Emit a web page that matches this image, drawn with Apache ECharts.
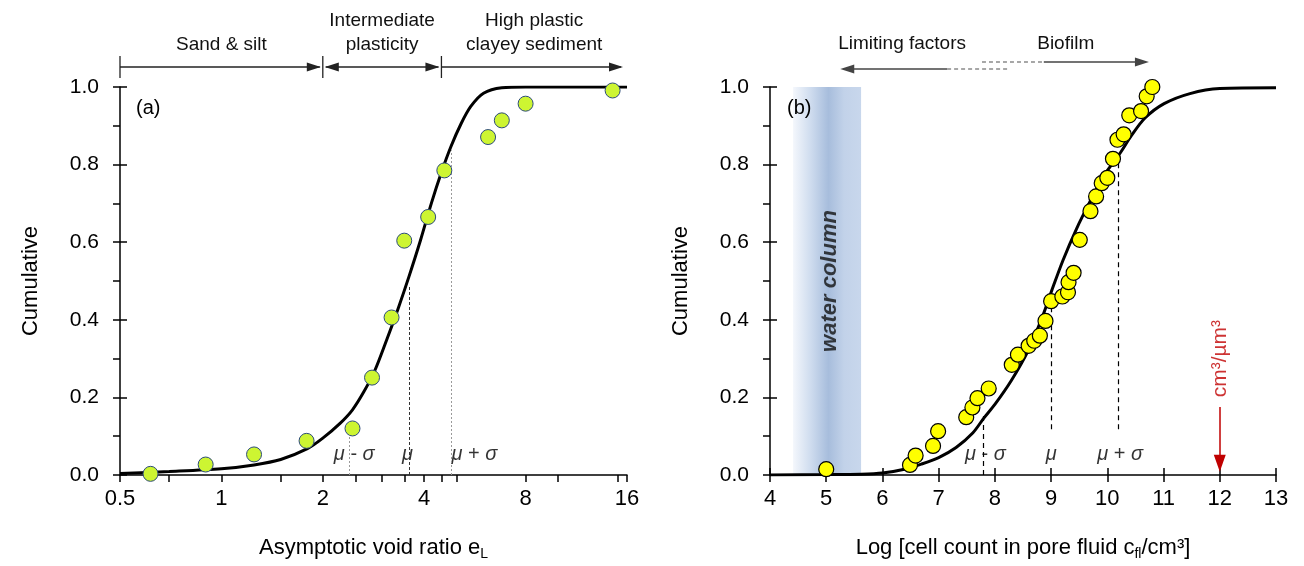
<!DOCTYPE html>
<html>
<head>
<meta charset="utf-8">
<title>Cumulative distributions</title>
<script src="https://cdn.jsdelivr.net/npm/echarts@6/dist/echarts.min.js"></script>
<style>html,body{margin:0;padding:0;background:#fff}</style>
</head>
<body>
<div id="main" style="width:1304px;height:566px"></div>
<script type="text/javascript">
// ---- panel (a): asymptotic void ratio ----
var voidRatio = [0.616, 0.898, 1.25, 1.79, 2.45, 2.80, 3.20, 3.49, 4.11, 4.59, 6.19, 6.80, 8.0, 14.5];
var cumA      = [0.003, 0.027, 0.053, 0.088, 0.120, 0.251, 0.406, 0.604, 0.665, 0.785, 0.871, 0.914, 0.957, 0.991];
var fitAx = [0.5, 0.7, 1.0, 1.25, 1.5, 1.8, 2.0, 2.25, 2.45, 2.65, 2.85, 3.1, 3.35, 3.6, 3.9, 4.2, 4.5, 4.8, 5.15, 5.5, 6.0, 6.8, 8, 16];
var fitAy = [0.004, 0.009, 0.016, 0.026, 0.040, 0.068, 0.095, 0.133, 0.168, 0.215, 0.268, 0.35, 0.43, 0.51, 0.605, 0.70, 0.78, 0.846, 0.906, 0.95, 0.984, 0.998, 1.0, 1.0];
var muA      = [2.4, 3.6, 4.8];          // mu - sigma, mu, mu + sigma
var muTopA   = [0.12, 0.485, 0.837];
var muLabelA = [2.48, 3.57, 5.64];
var xTicksA      = [0.5, 1, 2, 4, 8, 16];
var minorTicksA  = [0.7, 1.5, 2.5, 3, 3.5, 4.5, 5, 10, 15];
var zoneBounds   = [0.5, 2, 4.5, 16];

// ---- panel (b): cell count in pore fluid ----
var logCells = [5.0, 6.49, 6.59, 6.90, 6.99, 7.49, 7.60, 7.69, 7.89, 8.30, 8.41, 8.60, 8.70, 8.80, 8.90, 9.00,
                9.20, 9.30, 9.31, 9.40, 9.51, 9.70, 9.80, 9.90, 10.00, 10.10, 10.18, 10.29, 10.39, 10.60, 10.70, 10.80];
var cumB     = [0.015, 0.026, 0.050, 0.075, 0.113, 0.149, 0.174, 0.198, 0.223, 0.284, 0.310, 0.333, 0.346, 0.359, 0.397, 0.448,
                0.460, 0.471, 0.497, 0.521, 0.606, 0.680, 0.718, 0.752, 0.766, 0.815, 0.864, 0.878, 0.927, 0.938, 0.976, 1.0];
var fitBx = [4, 5, 5.6, 6, 6.39, 6.69, 7.0, 7.31, 7.61, 7.81, 8.0, 8.29, 8.59, 8.84, 9.01, 9.21, 9.45, 9.70, 9.94, 10.22, 10.43, 10.67, 11.01, 11.47, 12, 13];
var fitBy = [0, 0.001, 0.002, 0.005, 0.015, 0.028, 0.045, 0.071, 0.109, 0.148, 0.182, 0.243, 0.320, 0.406, 0.475, 0.553, 0.634, 0.707, 0.772, 0.828, 0.875, 0.920, 0.957, 0.983, 0.996, 0.998];
var muB       = [7.8, 9.0, 10.2];
var muBottomB = [0, 0.118, 0.118];
var muTopB    = [0.152, 0.484, 0.811];
var muLabelB  = [7.83, 9.0, 10.23];
var waterColumn = [4.41, 5.62];
var cellVolume  = 12;
var limitingArrow = [5.25, 7.15, 8.22];   // head, end of solid, end of dashed
var biofilmArrow  = [7.77, 8.87, 10.74];  // start of dashed, start of solid, head

var muNames = ['{i|μ} - {i|σ}', '{i|μ}', '{i|μ} + {i|σ}'];

var FONT = '"Liberation Sans", Arial, sans-serif';

function zip(a, b) { return a.map(function (v, i) { return [v, b[i]]; }); }

function yMain(g) {
    return {
        type: 'value', gridIndex: g, position: 'left', min: 0, max: 1, interval: 0.2,
        name: 'Cumulative', nameLocation: 'middle', nameGap: 78,
        nameTextStyle: {fontSize: 22, color: '#000', fontFamily: FONT},
        axisLine: {show: true, lineStyle: {color: '#000', width: 1.5}},
        axisTick: {show: true, length: 7, lineStyle: {color: '#000', width: 1.5}},
        minorTick: {show: true, splitNumber: 2, length: 7, lineStyle: {color: '#000', width: 1.5}},
        splitLine: {show: false}, minorSplitLine: {show: false},
        axisLabel: {fontSize: 21, color: '#000', margin: 21, fontFamily: FONT,
                    formatter: function (v) { return v.toFixed(1); }}
    };
}
function yInner(g) {
    return {
        type: 'value', gridIndex: g, position: 'left', min: 0, max: 1, interval: 0.2,
        axisLine: {show: false}, axisLabel: {show: false}, splitLine: {show: false},
        axisTick: {show: true, inside: true, length: 7, lineStyle: {color: '#000', width: 1.5}}
    };
}

var subRich = {
    sub: {fontSize: 14, fontFamily: FONT, color: '#000', padding: [12, 0, 0, 0]}
};

var chart = echarts.init(document.getElementById('main'));

var option = {
    animation: false,
    textStyle: {fontFamily: FONT},
    grid: [
        {left: 120, top: 87, width: 507, height: 388},
        {left: 770, top: 87, width: 506, height: 388}
    ],
    xAxis: [
        {
            type: 'log', logBase: 2, gridIndex: 0, position: 'bottom', min: 0.5, max: 16,
            name: 'Asymptotic void ratio e{sub|L}', nameLocation: 'middle', nameGap: 60,
            nameTextStyle: {fontSize: 22, color: '#000', fontFamily: FONT, rich: subRich},
            axisLine: {lineStyle: {color: '#000', width: 1.5}},
            axisTick: {length: 7, lineStyle: {color: '#000', width: 1.5}, customValues: xTicksA},
            splitLine: {show: false},
            axisLabel: {fontSize: 22, color: '#000', margin: 13, fontFamily: FONT, customValues: xTicksA}
        },
        {
            type: 'log', logBase: 2, gridIndex: 0, position: 'bottom', min: 0.5, max: 16,
            axisLine: {show: false}, axisLabel: {show: false}, splitLine: {show: false},
            axisTick: {length: 7, lineStyle: {color: '#000', width: 1.5}, customValues: minorTicksA}
        },
        {
            type: 'value', gridIndex: 1, position: 'bottom', min: 4, max: 13, interval: 1,
            name: 'Log [cell count in pore fluid c{sub|fl}/cm³]', nameLocation: 'middle', nameGap: 60,
            nameTextStyle: {fontSize: 22, color: '#000', fontFamily: FONT, rich: subRich},
            axisLine: {lineStyle: {color: '#000', width: 1.5}},
            axisTick: {length: 7, lineStyle: {color: '#000', width: 1.5}},
            splitLine: {show: false},
            axisLabel: {fontSize: 22, color: '#000', margin: 13, fontFamily: FONT}
        },
        {
            type: 'value', gridIndex: 1, position: 'bottom', min: 4, max: 13, interval: 1,
            axisLine: {show: false}, axisLabel: {show: false}, splitLine: {show: false},
            axisTick: {inside: true, length: 7, lineStyle: {color: '#000', width: 1.5}}
        }
    ],
    yAxis: [yMain(0), yInner(0), yMain(1), yInner(1)],
    series: [
        {
            name: 'fit a', type: 'line', xAxisIndex: 0, yAxisIndex: 0,
            data: zip(fitAx, fitAy), smooth: 0.3, showSymbol: false,
            lineStyle: {color: '#000', width: 3}, z: 3,
            markLine: {
                silent: true, symbol: 'none', label: {show: false},
                data: muA.map(function (m, i) {
                    return [
                        {coord: [m, 0], lineStyle: i === 1
                            ? {color: '#333', width: 1, type: [3, 2]}
                            : {color: '#9a9a9a', width: 1, type: [2, 2]}},
                        {coord: [m, muTopA[i]]}
                    ];
                })
            }
        },
        {
            name: 'data a', type: 'scatter', xAxisIndex: 0, yAxisIndex: 0,
            data: zip(voidRatio, cumA), symbolSize: 15, z: 5,
            itemStyle: {color: '#cdf532', borderColor: '#2c4a7c', borderWidth: 1, opacity: 1}
        },
        {
            name: 'mu a', type: 'scatter', xAxisIndex: 0, yAxisIndex: 0, silent: true,
            data: muLabelA.map(function (x, i) { return [x, 0.052, muNames[i]]; }),
            symbolSize: 1, itemStyle: {color: 'rgba(0,0,0,0)'},
            label: {show: true, position: 'inside', color: '#000', fontSize: 20,
                    formatter: function (p) { return p.value[2]; },
                    rich: {i: {fontStyle: 'italic', fontSize: 20, color: '#000'}}}
        },
        {
            name: 'fit b', type: 'line', xAxisIndex: 2, yAxisIndex: 2,
            data: zip(fitBx, fitBy), smooth: 0.3, showSymbol: false,
            lineStyle: {color: '#000', width: 3}, z: 3,
            markArea: {
                silent: true,
                itemStyle: {
                    color: new echarts.graphic.LinearGradient(0, 0, 1, 0, [
                        {offset: 0, color: '#f4f7fc'},
                        {offset: 0.25, color: '#d0ddef'},
                        {offset: 0.52, color: '#a7bddc'},
                        {offset: 0.75, color: '#c2d2e9'},
                        {offset: 1, color: '#c8d7ec'}
                    ])
                },
                data: [[{coord: [waterColumn[0], 0]}, {coord: [waterColumn[1], 1]}]]
            },
            markLine: {
                silent: true, symbol: 'none', label: {show: false},
                data: muB.map(function (m, i) {
                    return [
                        {coord: [m, muBottomB[i]], lineStyle: {color: '#000', width: 1.2, type: [5, 4]}},
                        {coord: [m, muTopB[i]]}
                    ];
                }).concat([[
                    {coord: [cellVolume, 0.175], symbol: 'none',
                     lineStyle: {color: '#c00000', width: 1.5, type: 'solid'}},
                    {coord: [cellVolume, 0.03], symbol: 'triangle', symbolSize: [12, 17], symbolRotate: 180,
                     itemStyle: {color: '#c00000'}}
                ]])
            }
        },
        {
            name: 'data b', type: 'scatter', xAxisIndex: 2, yAxisIndex: 2,
            data: zip(logCells, cumB), symbolSize: 15, z: 5,
            itemStyle: {color: '#ffff00', borderColor: '#000', borderWidth: 1.2, opacity: 1}
        },
        {
            name: 'mu b', type: 'scatter', xAxisIndex: 2, yAxisIndex: 2, silent: true,
            data: muLabelB.map(function (x, i) { return [x, 0.052, muNames[i]]; }),
            symbolSize: 1, itemStyle: {color: 'rgba(0,0,0,0)'},
            label: {show: true, position: 'inside', color: '#000', fontSize: 20,
                    formatter: function (p) { return p.value[2]; },
                    rich: {i: {fontStyle: 'italic', fontSize: 20, color: '#000'}}}
        },
        {
            name: 'notes b', type: 'scatter', xAxisIndex: 2, yAxisIndex: 2, silent: true, z: 6,
            data: [
                {value: [(waterColumn[0] + waterColumn[1]) / 2 + 0.05, 0.5], label: {
                    formatter: 'water column', fontWeight: 'bold', fontStyle: 'italic', color: '#111', fontSize: 22}},
                {value: [cellVolume, 0.30], label: {
                    formatter: 'cm³/µm³', color: '#c00000', fontSize: 21}}
            ],
            symbolSize: 1, itemStyle: {color: 'rgba(0,0,0,0)'},
            label: {show: true, position: 'inside', rotate: 90}
        }
    ]
};

chart.setOption(option);

// annotations above the plots
function head(tip, y, dir, color) {
    return {type: 'polygon', z: 100, shape: {points: [[tip, y], [tip - dir * 14, y - 4.5], [tip - dir * 14, y + 4.5]]},
            style: {fill: color}, silent: true};
}
function seg(x1, x2, y, color, dash) {
    return {type: 'line', z: 100, shape: {x1: x1, y1: y, x2: x2, y2: y},
            style: {stroke: color, lineWidth: 1.3, lineDash: dash || null}, silent: true};
}
function txt(x, y, s) {
    return {type: 'text', z: 100, x: x, y: y, silent: true,
            style: {text: s, fontSize: 19, fontFamily: FONT, fill: '#111', align: 'center', verticalAlign: 'middle'}};
}
var pa = function (v) { return chart.convertToPixel({xAxisIndex: 0}, v); };
var pb = function (v) { return chart.convertToPixel({xAxisIndex: 2}, v); };
var b = zoneBounds.map(pa);
var yA = 67, k = '#222';
var g = [
    seg(b[0], b[1] - 3, yA, k), head(b[1] - 2, yA, 1, k),
    seg(b[1] + 3, b[2] - 3, yA, k), head(b[1] + 2, yA, -1, k), head(b[2] - 2, yA, 1, k),
    seg(b[2], b[3] - 6, yA, k), head(b[3] - 4, yA, 1, k)
];
[b[0], b[1], b[2]].forEach(function (x) {
    g.push({type: 'line', z: 100, shape: {x1: x, y1: 56, x2: x, y2: 78}, style: {stroke: k, lineWidth: 1.3}, silent: true});
});
g.push(txt((b[0] + b[1]) / 2, 45, 'Sand & silt'));
g.push(txt((b[1] + b[2]) / 2, 21, 'Intermediate'));
g.push(txt((b[1] + b[2]) / 2, 45, 'plasticity'));
g.push(txt((b[2] + b[3]) / 2, 21, 'High plastic'));
g.push(txt((b[2] + b[3]) / 2, 45, 'clayey sediment'));

var la = limitingArrow.map(pb), ba = biofilmArrow.map(pb);
g.push(head(la[0], 69, -1, '#444'), seg(la[0] + 10, la[1], 69, '#444'), seg(la[1], la[2], 69, '#8a8a8a', [4, 3]));
g.push(seg(ba[0], ba[1], 62, '#8a8a8a', [4, 3]), seg(ba[1], ba[2] - 10, 62, '#444'), head(ba[2], 62, 1, '#444'));
g.push(txt(pb(6.35), 44, 'Limiting factors'));
g.push(txt(pb(9.26), 44, 'Biofilm'));
g.push({type: 'text', z: 100, x: 136, y: 108, silent: true,
        style: {text: '(a)', fontSize: 20, fontFamily: FONT, fill: '#000', verticalAlign: 'middle'}});
g.push({type: 'text', z: 100, x: 787, y: 108, silent: true,
        style: {text: '(b)', fontSize: 20, fontFamily: FONT, fill: '#000', verticalAlign: 'middle'}});

chart.setOption({graphic: g});
</script>
</body>
</html>
